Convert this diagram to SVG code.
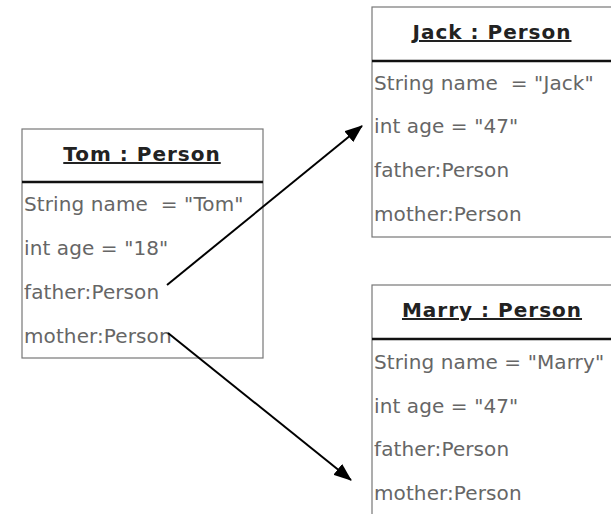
<svg xmlns="http://www.w3.org/2000/svg" width="611" height="514" viewBox="0 0 611 514">
<defs>
<style>
.box{fill:#fff;stroke:#777;stroke-width:1.2}
.hdr{stroke:#111;stroke-width:2.5}
.title{font-family:"DejaVu Sans",Verdana,sans-serif;font-size:20px;font-weight:bold;fill:#222;text-anchor:middle;text-decoration:underline;letter-spacing:1px}
.attr{font-family:"DejaVu Sans",Verdana,sans-serif;font-size:20px;fill:#666;letter-spacing:0.1px}
.conn{stroke:#000;stroke-width:2;fill:none}
</style>
<marker id="arr" viewBox="0 0 18 14" refX="17" refY="7" markerWidth="18" markerHeight="14" markerUnits="userSpaceOnUse" orient="auto">
<path d="M0,0 L18,7 L0,14 z" fill="#000"/>
</marker>
</defs>
<rect width="611" height="514" fill="#fff"/>
<g id="tom">
<rect class="box" x="22" y="129" width="241" height="229"/>
<line class="hdr" x1="22" y1="182" x2="263" y2="182"/>
<text class="title" x="142" y="161">Tom : Person</text>
<text class="attr" x="24" y="211" xml:space="preserve">String name  = "Tom"</text>
<text class="attr" x="24" y="255">int age = "18"</text>
<text class="attr" x="24" y="299">father:Person</text>
<text class="attr" x="24" y="343">mother:Person</text>
</g>
<g id="jack">
<rect class="box" x="372" y="7" width="245" height="230"/>
<line class="hdr" x1="372" y1="61" x2="611" y2="61"/>
<text class="title" x="492" y="39">Jack : Person</text>
<text class="attr" x="374" y="90" xml:space="preserve">String name  = "Jack"</text>
<text class="attr" x="374" y="133">int age = "47"</text>
<text class="attr" x="374" y="177">father:Person</text>
<text class="attr" x="374" y="221">mother:Person</text>
</g>
<g id="marry">
<rect class="box" x="372" y="285" width="245" height="240"/>
<line class="hdr" x1="372" y1="339" x2="611" y2="339"/>
<text class="title" x="492" y="317">Marry : Person</text>
<text class="attr" x="374" y="369">String name = "Marry"</text>
<text class="attr" x="374" y="413">int age = "47"</text>
<text class="attr" x="374" y="456">father:Person</text>
<text class="attr" x="374" y="500">mother:Person</text>
</g>
<g id="connectors">
<line class="conn" x1="167" y1="285" x2="362" y2="126" marker-end="url(#arr)"/>
<line class="conn" x1="168" y1="333" x2="351" y2="480" marker-end="url(#arr)"/>
</g>
</svg>
